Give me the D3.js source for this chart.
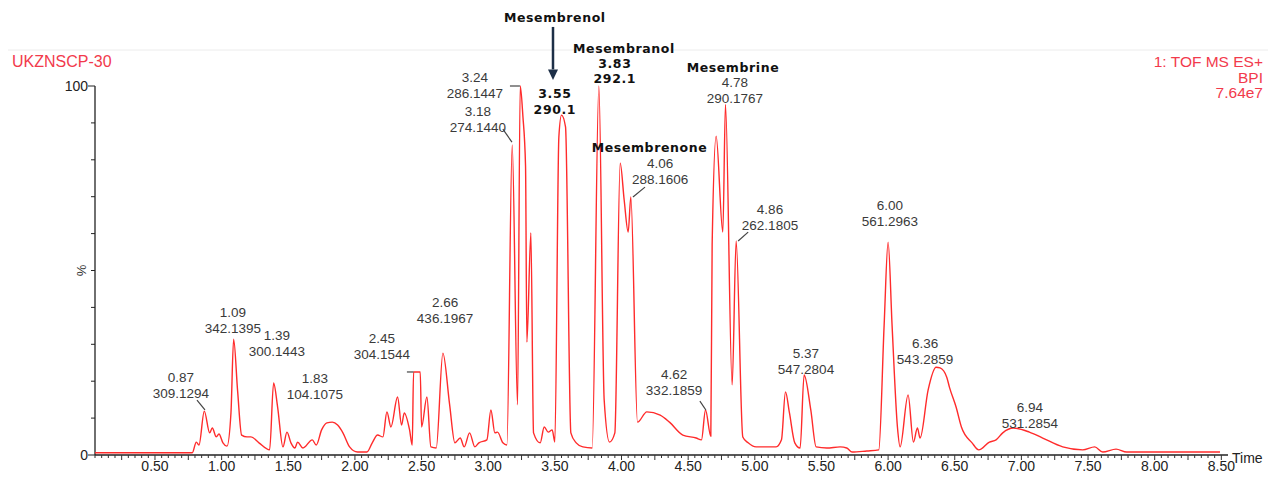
<!DOCTYPE html>
<html>
<head>
<meta charset="utf-8">
<script src="https://cdn.jsdelivr.net/npm/d3@7"></script>
<style>
  body { margin: 0; background: #fff; }
  svg text { font-family: "Liberation Sans", Arial, sans-serif; }
</style>
</head>
<body>
<div id="chart"></div>
<script>
// retention time (min) and base peak intensity (% of max)
const timeMin = [0.05, 0.23, 0.76, 0.78, 0.81, 0.83, 0.87, 0.91, 0.93, 0.96, 0.98, 1.01, 1.04, 1.07, 1.09, 1.12, 1.15, 1.19, 1.22, 1.28, 1.36,
  1.39, 1.42, 1.46, 1.49, 1.52, 1.55, 1.57, 1.61, 1.68, 1.71, 1.75, 1.79, 1.83, 1.87, 1.91, 1.96, 2.02, 2.09, 2.13, 2.17, 2.21, 2.24,
  2.27, 2.32, 2.35, 2.37, 2.41, 2.43, 2.44, 2.49, 2.50, 2.54, 2.57, 2.61, 2.66, 2.71, 2.75, 2.79, 2.82, 2.86, 2.90, 2.93, 2.99, 3.02,
  3.05, 3.07, 3.11, 3.14, 3.18, 3.22, 3.24, 3.26, 3.28, 3.29, 3.32, 3.34, 3.39, 3.42, 3.45, 3.48, 3.50, 3.53, 3.55, 3.58, 3.62, 3.66,
  3.71, 3.78, 3.83, 3.87, 3.91, 3.95, 3.99, 4.02, 4.05, 4.07, 4.12, 4.19, 4.29, 4.36, 4.46, 4.56, 4.60, 4.63, 4.67, 4.68, 4.71, 4.76,
  4.78, 4.83, 4.86, 4.91, 4.95, 5.01, 5.09, 5.16, 5.20, 5.23, 5.26, 5.30, 5.34, 5.37, 5.42, 5.46, 5.54, 5.64, 5.69, 5.73, 5.84, 5.93,
  5.97, 6.00, 6.03, 6.07, 6.09, 6.15, 6.19, 6.22, 6.24, 6.30, 6.36, 6.39, 6.44, 6.46, 6.51, 6.55, 6.63, 6.68, 6.76, 6.81, 6.86, 6.94,
  7.06, 7.16, 7.31, 7.46, 7.55, 7.61, 7.71, 7.79, 8.49];
const intensityPct = [0.6, 0.6, 0.6, 0.6, 3.5, 2.7, 11.9, 6.0, 7.3, 4.9, 5.7, 3.3, 2.4, 11.4, 31.4, 17.3, 5.4, 4.9, 4.9, 3.3, 1.4,
  19.5, 13.0, 2.2, 6.2, 3.3, 1.9, 3.5, 1.9, 4.1, 2.7, 6.8, 8.7, 8.9, 8.1, 6.0, 2.2, 0.8, 0.8, 3.3, 5.4, 4.9, 11.7,
  7.6, 15.7, 8.1, 11.4, 6.8, 2.7, 22.5, 22.5, 7.6, 15.7, 2.2, 1.9, 27.6, 13.8, 3.3, 4.6, 2.2, 6.0, 2.2, 3.3, 4.1, 12.2,
  6.0, 6.2, 3.3, 2.7, 84.0, 13.6, 100, 91.9, 78.3, 30.6, 60.2, 6.0, 3.3, 7.6, 6.2, 6.8, 3.5, 86.2, 92.1, 88.9, 6.0, 3.3,
  2.2, 1.9, 100, 14.9, 3.5, 6.0, 79.1, 69.1, 60.4, 69.9, 8.9, 11.7, 10.8, 8.9, 5.4, 4.6, 4.1, 12.2, 5.1, 57.0, 86.4, 60.4,
  95.0, 19.0, 58.0, 4.9, 3.3, 2.2, 2.2, 2.2, 4.1, 17.1, 11.4, 3.3, 1.9, 21.7, 12.2, 2.2, 1.9, 2.2, 1.9, 0.8, 1.1, 1.4,
  35.0, 57.7, 35.0, 7.6, 2.2, 16.3, 3.5, 7.3, 4.6, 17.6, 23.8, 23.6, 21.1, 18.4, 13.0, 7.6, 3.3, 1.4, 3.5, 4.1, 6.0, 7.3,
  6.2, 4.6, 2.2, 1.4, 2.2, 0.8, 1.6, 0.8, 0.8];

const xTickValues = [0.5, 1.0, 1.5, 2.0, 2.5, 3.0, 3.5, 4.0, 4.5, 5.0, 5.5, 6.0, 6.5, 7.0, 7.5, 8.0, 8.5];

// peak annotations: label anchor (time, %), text lines, optional leader line
const peakLabels = [
  { t: 0.695, p: 19.8, lines: ["0.87", "309.1294"], leader: [[0.815, 14.9], [0.875, 12.2]] },
  { t: 1.085, p: 37.4, lines: ["1.09", "342.1395"] },
  { t: 1.415, p: 31.2, lines: ["1.39", "300.1443"] },
  { t: 1.70, p: 19.5, lines: ["1.83", "104.1075"] },
  { t: 2.203, p: 30.4, lines: ["2.45", "304.1544"], leader: [[2.39, 22.5], [2.44, 22.5]] },
  { t: 2.676, p: 40.1, lines: ["2.66", "436.1967"] },
  { t: 2.90, p: 101.1, lines: ["3.24", "286.1447"], leader: [[3.163, 100], [3.238, 100]] },
  { t: 2.923, p: 91.9, lines: ["3.18", "274.1440"], leader: [[3.11, 88.3], [3.178, 84.8]] },
  { t: 3.50, p: 96.7, lines: ["3.55", "290.1"], bold: true },
  { t: 3.50, p: 117.3, lines: ["Mesembrenol"], bold: true },
  { t: 4.018, p: 108.9, lines: ["Mesembranol"], bold: true },
  { t: 3.95, p: 104.9, lines: ["3.83", "292.1"], bold: true },
  { t: 4.21, p: 82.1, lines: ["Mesembrenone"], bold: true },
  { t: 4.29, p: 77.8, lines: ["4.06", "288.1606"], leader: [[4.176, 72.6], [4.086, 69.9]] },
  { t: 4.836, p: 103.8, lines: ["Mesembrine"], bold: true },
  { t: 4.85, p: 99.7, lines: ["4.78", "290.1767"] },
  { t: 5.114, p: 65.3, lines: ["4.86", "262.1805"], leader: [[4.95, 60.4], [4.875, 58.0]] },
  { t: 4.394, p: 20.6, lines: ["4.62", "332.1859"], leader: [[4.588, 14.6], [4.633, 12.2]] },
  { t: 5.384, p: 26.3, lines: ["5.37", "547.2804"] },
  { t: 6.014, p: 66.4, lines: ["6.00", "561.2963"] },
  { t: 6.277, p: 29.0, lines: ["6.36", "543.2859"] },
  { t: 7.064, p: 11.7, lines: ["6.94", "531.2854"] }
];

const width = 1275, height = 478;
const red = "#ff2b2b";
const redText = "#f23a4c";

const svg = d3.select("#chart").append("svg")
  .attr("width", width)
  .attr("height", height);

const x = d3.scaleLinear().domain([0.05, 8.55]).range([95, 1228]);
const y = d3.scaleLinear().domain([0, 100]).range([455, 86]);

// faint scan line at the top
svg.append("line")
  .attr("x1", 8).attr("x2", 1268)
  .attr("y1", 50).attr("y2", 50)
  .attr("stroke", "#ececec");

// header texts
svg.append("text")
  .attr("x", 12).attr("y", 67)
  .style("font-size", "16px")
  .style("fill", redText)
  .text("UKZNSCP-30");

const rightHead = ["1: TOF MS ES+", "BPI", "7.64e7"];
rightHead.forEach((t, i) => {
  svg.append("text")
    .attr("x", 1263).attr("y", 67 + i * 15.5)
    .attr("text-anchor", "end")
    .style("font-size", "15.5px")
    .style("fill", redText)
    .text(t);
});

// x axis (ruler style)
const minorTicks = d3.range(1, 171).map(i => i * 0.05).filter(v => v <= 8.55);
const xAxis = svg.append("g").attr("transform", `translate(0, ${y(0)})`);
xAxis.append("line")
  .attr("x1", x.range()[0]).attr("x2", x.range()[1])
  .attr("stroke", "#222").attr("stroke-width", 1.3);
xAxis.selectAll(".mtick")
  .data(minorTicks)
  .enter().append("line")
  .attr("x1", d => x(d)).attr("x2", d => x(d))
  .attr("y1", 0)
  .attr("y2", d => (Math.abs(d * 4 - Math.round(d * 4)) < 1e-6) ? 5 : 3)
  .attr("stroke", "#333").attr("stroke-width", 1);
xAxis.selectAll(".xlab")
  .data(xTickValues)
  .enter().append("text")
  .attr("x", d => x(d))
  .attr("y", 16)
  .attr("text-anchor", "middle")
  .style("font-size", "14px")
  .style("fill", "#222")
  .text(d => d.toFixed(2));

svg.append("text")
  .attr("x", 1232).attr("y", 463)
  .style("font-size", "14px")
  .style("fill", "#222")
  .text("Time");

// y axis
const yAxis = svg.append("g").attr("transform", `translate(${x.range()[0]}, 0)`);
yAxis.append("line")
  .attr("y1", y(0)).attr("y2", y(100))
  .attr("stroke", "#222").attr("stroke-width", 1.3);
yAxis.selectAll(".ytick")
  .data(d3.range(0, 101, 10))
  .enter().append("line")
  .attr("x1", d => (d === 0 || d === 100) ? -7 : -4).attr("x2", 0)
  .attr("y1", d => y(d)).attr("y2", d => y(d))
  .attr("stroke", "#222");
[0, 100].forEach(v => {
  yAxis.append("text")
    .attr("x", -7).attr("y", y(v) + 5)
    .attr("text-anchor", "end")
    .style("font-size", "14px")
    .style("fill", "#222")
    .text(v);
});
yAxis.append("text")
  .attr("transform", `translate(-9, ${y(50)}) rotate(-90)`)
  .attr("text-anchor", "middle")
  .style("font-size", "13px")
  .style("fill", "#333")
  .text("%");

// the trace
const trace = timeMin.map((t, i) => [t, intensityPct[i]]);
const line = d3.line()
  .x(d => x(d[0]))
  .y(d => y(d[1]))
  .curve(d3.curveMonotoneX);

svg.append("path")
  .datum(trace)
  .attr("d", line)
  .attr("fill", "none")
  .attr("stroke", red)
  .attr("stroke-width", 1.4)
  .attr("stroke-linejoin", "round");

// annotations
const ann = svg.append("g");
peakLabels.forEach(d => {
  d.lines.forEach((txt, i) => {
    ann.append("text")
      .attr("x", x(d.t))
      .attr("y", y(d.p) + i * (d.bold ? 15.5 : 16))
      .attr("text-anchor", "middle")
      .style("font-family", d.bold ? "'DejaVu Sans', Verdana, sans-serif" : null)
      .style("font-weight", d.bold ? "bold" : "normal")
      .style("font-size", d.bold ? "12.5px" : "13.5px")
      .style("letter-spacing", d.bold ? "0.6px" : null)
      .style("fill", d.bold ? "#111" : "#3a3a3a")
      .text(txt);
  });
  if (d.leader) {
    ann.append("line")
      .attr("x1", x(d.leader[0][0])).attr("y1", y(d.leader[0][1]))
      .attr("x2", x(d.leader[1][0])).attr("y2", y(d.leader[1][1]))
      .attr("stroke", "#444").attr("stroke-width", 1.2);
  }
});

// arrow from Mesembrenol down to its peak label
const arrowT = 3.486;
ann.append("line")
  .attr("x1", x(arrowT)).attr("x2", x(arrowT))
  .attr("y1", y(116)).attr("y2", y(104.5))
  .attr("stroke", "#1d2f47").attr("stroke-width", 2.5);
ann.append("path")
  .attr("d", `M${x(arrowT) - 5},${y(104.5)} L${x(arrowT) + 5},${y(104.5)} L${x(arrowT)},${y(101.6)} Z`)
  .attr("fill", "#1d2f47");
</script>
</body>
</html>
